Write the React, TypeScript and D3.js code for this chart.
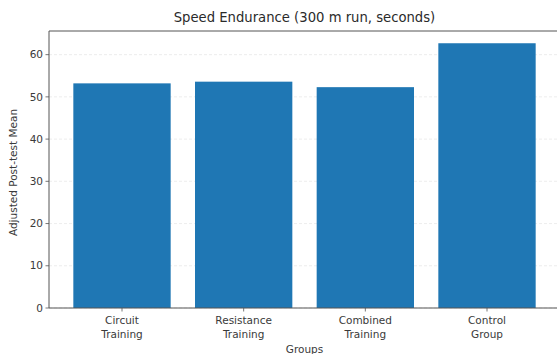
import React from "react";
import * as d3 from "d3";

const categories = ["Circuit\nTraining", "Resistance\nTraining", "Combined\nTraining", "Control\nGroup"];
const values = [53.2, 53.6, 52.3, 62.7];
const yTicks = [0, 10, 20, 30, 40, 50, 60];
const title = "Speed Endurance (300 m run, seconds)";
const xLabel = "Groups";
const yLabel = "Adjusted Post-test Mean";

export default function App() {
  const W = 557, H = 354;
  const left = 49, right = 560, top = 31, bottom = 308;
  const x = d3.scaleLinear().domain([-0.6, 3.6]).range([left, right]);
  const y = d3.scaleLinear().domain([0, 65.6]).range([bottom, top]);
  const font = "DejaVu Sans, sans-serif";
  const axisCol = "#555";
  const textCol = "#3a3a3a";
  return (
    <svg width={W} height={H} style={{ position: "absolute", left: 0, top: 0, background: "#fff" }} fontFamily={font}>
      {yTicks.map((t) => (
        <line key={"g" + t} x1={left} x2={right} y1={y(t)} y2={y(t)} stroke="#e8e8e8" strokeWidth={0.8} strokeDasharray="3,2" />
      ))}
      {values.map((v, i) => (
        <rect key={i} x={x(i - 0.4)} y={y(v)} width={x(i + 0.4) - x(i - 0.4)} height={y(0) - y(v)} fill="#1f77b4" />
      ))}
      <line x1={left} x2={left} y1={top} y2={bottom} stroke={axisCol} strokeWidth={1} />
      <line x1={left} x2={right} y1={bottom} y2={bottom} stroke={axisCol} strokeWidth={1} />
      <line x1={left} x2={right} y1={top} y2={top} stroke={axisCol} strokeWidth={1} />
      {yTicks.map((t) => (
        <g key={"t" + t}>
          <line x1={left - 3.5} x2={left} y1={y(t)} y2={y(t)} stroke={axisCol} strokeWidth={0.8} />
          <text x={left - 6} y={y(t)} dy="0.35em" textAnchor="end" fontSize={10.5} fill={textCol}>{t}</text>
        </g>
      ))}
      {categories.map((c, i) => (
        <g key={"c" + i}>
          <line x1={x(i)} x2={x(i)} y1={bottom} y2={bottom + 3.5} stroke={axisCol} strokeWidth={0.8} />
          {c.split("\n").map((line, j) => (
            <text key={j} x={x(i)} y={bottom + 16 + j * 13.5} textAnchor="middle" fontSize={10.5} fill={textCol}>{line}</text>
          ))}
        </g>
      ))}
      <text x={(left + right) / 2} y={353} textAnchor="middle" fontSize={10.5} fill={textCol}>{xLabel}</text>
      <text transform={`translate(17,${(top + bottom) / 2 + 3}) rotate(-90)`} textAnchor="middle" fontSize={10.5} fill={textCol}>{yLabel}</text>
      <text x={(left + right) / 2} y={22} textAnchor="middle" fontSize={13.2} fill="#2a2a2a">{title}</text>
    </svg>
  );
}
